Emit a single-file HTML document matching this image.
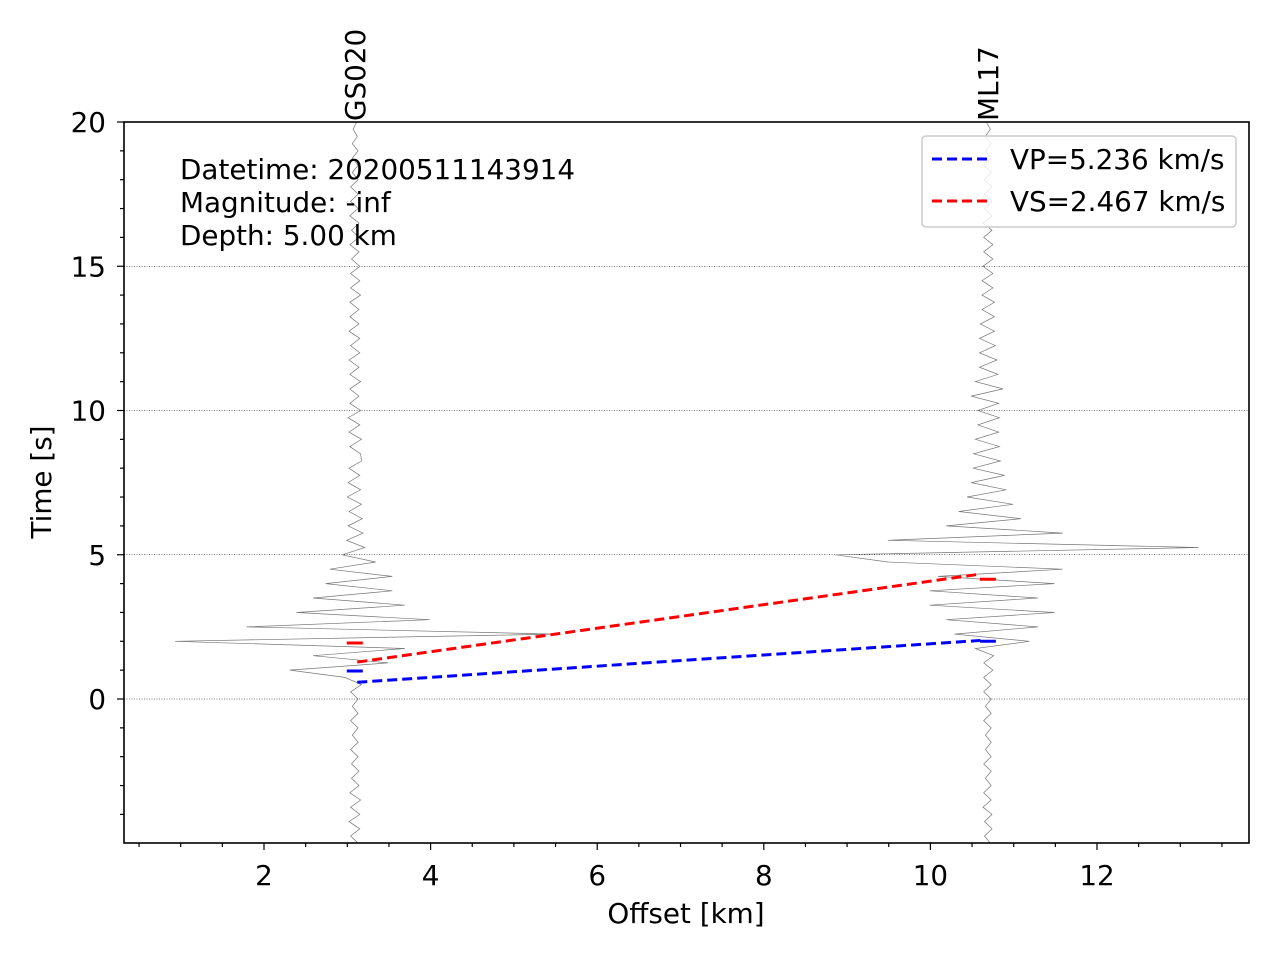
<!DOCTYPE html>
<html><head><meta charset="utf-8"><style>
body{margin:0;background:#fff;}
svg{display:block;font-family:"DejaVu Sans","Liberation Sans",sans-serif;}
</style></head><body>
<svg id="chart" width="1280" height="960" viewBox="0 0 1280 960" xmlns="http://www.w3.org/2000/svg">
<rect width="1280" height="960" fill="#fff"/>
<g id="grid"></g><g id="traces"></g><g id="picks"></g><g id="ticks"></g>
<rect x="124" y="122" width="1125" height="721" fill="none" stroke="#000" stroke-width="1.6"/>
<text x="686" y="923" font-size="27.8" text-anchor="middle">Offset [km]</text>
<text transform="translate(51,482) rotate(-90)" font-size="27.8" text-anchor="middle">Time [s]</text>
<g font-size="27.8">
<text x="180" y="179">Datetime: 20200511143914</text>
<text x="180" y="212">Magnitude: -inf</text>
<text x="180" y="245">Depth: 5.00 km</text>
</g>
<g>
<rect x="922" y="136" width="314" height="91" rx="4" fill="#fff" fill-opacity="0.8" stroke="#ccc" stroke-width="1.5"/>
<line x1="932" y1="159" x2="990" y2="159" stroke="#0000ff" stroke-width="3" stroke-dasharray="10,5"/>
<text x="1010" y="169" font-size="27.8">VP=5.236 km/s</text>
<line x1="932" y1="201" x2="990" y2="201" stroke="#ff0000" stroke-width="3" stroke-dasharray="10,5"/>
<text x="1010" y="211" font-size="27.8">VS=2.467 km/s</text>
</g>
</svg>
<script>
const stations=["GS020","ML17"];
const stationOffsets=[3.09,10.69];
const traceStart=-5, traceStep=0.25;
const gs020Amp=[0.04,-0.05,0.06,-0.07,0.06,-0.05,0.07,-0.06,0.05,-0.04,0.05,-0.04,0.04,-0.05,0.04,-0.03,0.04,-0.05,0.04,-0.03,
0.04,-0.05,0.08,-0.12,-0.78,0.4,-0.5,0.6,-2.16,2.4,-1.3,0.9,-0.7,0.6,-0.5,0.45,-0.35,0.45,-0.3,0.25,-0.15,0.12,-0.1,0.1,
-0.08,0.09,-0.07,0.08,-0.09,0.07,-0.08,0.06,-0.07,0.08,0.07,-0.06,0.08,-0.07,0.06,-0.08,0.07,-0.06,0.05,-0.06,
0.07,-0.06,0.05,-0.07,0.06,-0.05,0.06,-0.07,0.05,-0.06,0.05,-0.06,0.07,-0.05,0.06,-0.05,0.06,-0.04,0.05,-0.06,
0.05,-0.04,0.05,-0.06,0.04,-0.05,0.04,-0.05,0.04,-0.03,0.04,-0.03,0.04,-0.03,0.03,-0.02,0.02];
const ml17Amp=[0.03,-0.04,0.05,-0.04,0.05,-0.06,0.04,-0.05,0.04,-0.03,0.04,-0.05,0.04,-0.03,0.04,-0.03,0.04,-0.05,0.04,-0.03,
0.04,-0.05,0.04,-0.05,0.06,-0.05,0.07,-0.15,0.5,-0.4,0.6,-0.5,0.8,-0.7,0.6,-0.7,0.8,-0.6,0.9,-1.2,-1.83,2.53,-1.2,0.9,
-0.5,0.4,-0.35,0.3,-0.25,0.22,-0.2,0.2,-0.18,0.15,-0.17,0.14,-0.15,0.13,-0.12,0.14,-0.12,0.13,-0.2,0.18,-0.15,0.12,-0.1,0.11,
-0.1,0.09,-0.1,0.08,-0.09,0.08,-0.07,0.08,-0.07,0.06,-0.07,0.06,-0.06,
0.06,-0.05,0.06,-0.05,0.05,-0.06,0.05,-0.04,0.05,-0.04,0.05,-0.04,0.04,-0.05,0.04,-0.03,0.04,-0.03,0.03,-0.02];
const pPicks=[0.97,2.0];
const sPicks=[1.94,4.15];
const vpLine=[[3.12,0.58],[10.6,2.03]];
const vsLine=[[3.12,1.28],[10.6,4.33]];
const xTicks=[2,4,6,8,10,12];
const yTicks=[0,5,10,15,20];
const gridTimes=[0,5,10,15];

const X=v=>97.4+v*83.3, Y=t=>699-t*28.85;
const NS="http://www.w3.org/2000/svg";
function mk(tag,parent,attrs){const e=document.createElementNS(NS,tag);for(const k in attrs)e.setAttribute(k,attrs[k]);parent.appendChild(e);return e;}
const grid=document.getElementById('grid'),traces=document.getElementById('traces'),picks=document.getElementById('picks'),ticks=document.getElementById('ticks');
gridTimes.forEach(t=>{const l=mk('line',grid,{x1:124,x2:1249,y1:Y(t),y2:Y(t),stroke:'#000','stroke-width':0.6,'stroke-dasharray':'1,1.5'});

});
[gs020Amp,ml17Amp].forEach((amp,si)=>{
 let d='';amp.forEach((a,i)=>{d+=(i?'L':'M')+X(stationOffsets[si]+a).toFixed(1)+','+Y(traceStart+i*traceStep).toFixed(1);});
 const p=mk('path',traces,{d:d,fill:'none',stroke:'#777','stroke-width':0.7});
 
 
 const tx=mk('text',traces,{transform:`translate(${X(stationOffsets[si])+10},121) rotate(-90)`,'font-size':27.8});
 tx.textContent=stations[si];
 
 
});
stationOffsets.forEach((o,i)=>{
 const a=mk('line',picks,{x1:X(o)-8,x2:X(o)+8,y1:Y(pPicks[i]),y2:Y(pPicks[i]),stroke:'#0000ff','stroke-width':3});
 
 
 const b=mk('line',picks,{x1:X(o)-8,x2:X(o)+8,y1:Y(sPicks[i]),y2:Y(sPicks[i]),stroke:'#ff0000','stroke-width':3});
 
 
});
[[vpLine,'#0000ff','vp-moveout-line'],[vsLine,'#ff0000','vs-moveout-line']].forEach(([ln,c,n])=>{
 const l=mk('line',picks,{x1:X(ln[0][0]),y1:Y(ln[0][1]),x2:X(ln[1][0]),y2:Y(ln[1][1]),stroke:c,'stroke-width':3,'stroke-dasharray':'10,5'});
 
 
});
for(let v=0.5;v<13.8;v+=0.5){mk('line',ticks,{x1:X(v),x2:X(v),y1:843,y2:xTicks.includes(v)?850:847,stroke:'#000','stroke-width':1.2});}
xTicks.forEach(v=>{const t=mk('text',ticks,{x:X(v),y:885,'font-size':27.8,'text-anchor':'middle'});t.textContent=v;
 
 });
for(let t=-4;t<=20;t++){mk('line',ticks,{x1:yTicks.includes(t)?117:120,x2:124,y1:Y(t),y2:Y(t),stroke:'#000','stroke-width':1.2});}
yTicks.forEach(v=>{const t=mk('text',ticks,{x:106,y:Y(v)+10,'font-size':27.8,'text-anchor':'end'});t.textContent=v;
 
 });
</script>
</body></html>
